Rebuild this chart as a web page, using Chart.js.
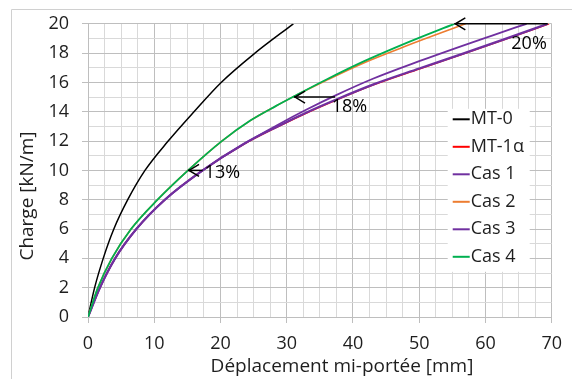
<!DOCTYPE html>
<html><head><meta charset="utf-8">
<script src="https://cdn.jsdelivr.net/npm/chart.js@4"></script>
<style>html,body{margin:0;padding:0;background:#fff}#wrap{width:572px;height:379px;position:relative}</style>
</head><body><div id="wrap"><canvas id="c"></canvas></div>
<script>
// ---- data ----
const seriesNames = ['MT-0', 'MT-1\u03B1', 'Cas 1', 'Cas 2', 'Cas 3', 'Cas 4'];
const seriesColors = ['#000000', '#FF0000', '#7030A0', '#ED7D31', '#7030A0', '#00B050'];

const mt0X = [0, 1.0, 2.3, 3.9, 6.0, 8.6, 12.1, 16.0, 20.1, 25.2, 31.0];
const mt0Y = [0, 2, 4, 6, 8, 10, 12, 14, 16, 18, 20];

const mt1X = [0, 1.8, 4.1, 7.3, 11.6, 17.3, 23.5, 28.4, 33.0, 37.3, 43.0, 50.0, 56.5, 63.0, 69.6];
const mt1Y = [0, 2, 4, 6, 8, 10, 11.78, 12.92, 13.92, 14.77, 15.82, 16.92, 17.92, 18.94, 20];

const cas1X = [0, 1.8, 4.1, 7.3, 11.6, 17.3, 23.5, 28.4, 33.0, 37.3, 43.0, 50.0, 56.5, 63.0, 69.4];
const cas1Y = [0, 2, 4, 6, 8, 10, 11.8, 12.95, 13.95, 14.8, 15.85, 16.95, 17.95, 18.97, 20];

const cas2X = [0, 1.5, 3.6, 6.5, 10.5, 15.1, 20.2, 24.5, 28.4, 31.1, 36.0, 41.7, 48.1, 57.0];
const cas2Y = [0, 2, 4, 6, 8, 10, 12, 13.4, 14.4, 15.05, 16.15, 17.35, 18.5, 20];

const cas3X = [0, 1.8, 4.1, 7.3, 11.6, 17.3, 23.5, 28.4, 33.0, 37.3, 43.0, 50.0, 56.5, 61.0, 66.2];
const cas3Y = [0, 2, 4, 6, 8, 10, 11.8, 13.05, 14.15, 15.1, 16.25, 17.45, 18.5, 19.2, 20];

const cas4X = [0, 1.5, 3.6, 6.5, 10.5, 15.1, 20.2, 24.5, 28.4, 31.1, 36.0, 41.7, 48.1, 55.3];
const cas4Y = [0, 2, 4, 6, 8, 10, 12, 13.4, 14.4, 15.05, 16.2, 17.45, 18.7, 20];

// annotations (reduction arrows)
const annLabels = ['13%', '18%', '20%'];
const annY = [10, 15, 20];
const annTipX = [15.1, 31.1, 55.3];
const annTailX = [17.3, 37.3, 69.4];
const annTextX = [17.6, 36.8, 63.9];
const annTextY = [9.85, 14.3, 18.6];

const xTitle = 'D\u00E9placement mi-port\u00E9e [mm]';
const yTitle = 'Charge [kN/m]';
const xMin = 0, xMax = 70, xStep = 2.5, xMajor = 10;
const yMin = 0, yMax = 20, yStep = 1, yMajor = 2;

// ---- chart ----
const FONT = "'Open Sans', 'DejaVu Sans', sans-serif";
const TXT = '#1e1e1e';
const MAJ = '#BEBEBE', MINC = '#D9D9D9';
const CLEAR = 'rgba(0,0,0,0)';

function isMajor(v, m) { const r = Math.abs(v / m - Math.round(v / m)); return r < 1e-6; }
function pts(xs, ys) { return xs.map((x, i) => ({ x: x, y: ys[i] })); }
const allX = [mt0X, mt1X, cas1X, cas2X, cas3X, cas4X];
const allY = [mt0Y, mt1Y, cas1Y, cas2Y, cas3Y, cas4Y];
const widths = [1.5, 1.6, 2.2, 1.6, 1.8, 1.8];

const datasets = seriesNames.map((n, i) => ({
  label: n,
  data: pts(allX[i], allY[i]),
  borderColor: seriesColors[i],
  borderWidth: widths[i],
  pointRadius: 0,
  fill: false,
  cubicInterpolationMode: 'monotone',
  order: seriesNames.length - i
}));

// per-tick grid colours (tick lists follow min/step/max of each axis)
const xGridColors = [], xTickColors = [];
for (let v = xMin; v <= xMax + 1e-9; v += xStep) {
  xGridColors.push(isMajor(v, xMajor) ? MAJ : MINC);
  xTickColors.push(isMajor(v, xMajor) ? MAJ : CLEAR);
}
const yGridColors = [], yTickColors = [];
for (let v = yMin; v <= yMax + 1e-9; v += yStep) {
  yGridColors.push(isMajor(v, yMajor) ? MAJ : MINC);
  yTickColors.push(isMajor(v, yMajor) ? MAJ : CLEAR);
}

const overlay = {
  id: 'overlay',
  afterDraw(chart) {
    const ctx = chart.ctx, xs = chart.scales.x, ys = chart.scales.y, ca = chart.chartArea;
    ctx.save();
    ctx.strokeStyle = '#D0D0D0'; ctx.lineWidth = 1;
    ctx.beginPath(); ctx.moveTo(11.5, 379); ctx.lineTo(11.5, 9.5); ctx.lineTo(572, 9.5); ctx.stroke();
    // arrows
    ctx.strokeStyle = '#000'; ctx.lineWidth = 1.5; ctx.fillStyle = '#000';
    ctx.font = '18px ' + FONT; ctx.textAlign = 'left'; ctx.textBaseline = 'middle';
    for (let i = 0; i < annLabels.length; i++) {
      const y = ys.getPixelForValue(annY[i]);
      const x0 = xs.getPixelForValue(annTipX[i]);
      const x1 = xs.getPixelForValue(annTailX[i]);
      ctx.beginPath(); ctx.moveTo(x0, y); ctx.lineTo(x1, y); ctx.stroke();
      ctx.beginPath(); ctx.moveTo(x0 + 11, y - 6); ctx.lineTo(x0 + 1, y); ctx.lineTo(x0 + 11, y + 6); ctx.stroke();
      ctx.fillText(annLabels[i], xs.getPixelForValue(annTextX[i]), ys.getPixelForValue(annTextY[i]));
    }
    // legend
    const lx = ca.right - 104, ly = ca.top + 85, lw = 82, lh = 163;
    ctx.fillStyle = '#fff'; ctx.fillRect(lx, ly, lw, lh);
    for (let i = 0; i < seriesNames.length; i++) {
      const cy = ly + 10.5 + i * 27.5;
      ctx.strokeStyle = seriesColors[i]; ctx.lineWidth = 2;
      ctx.beginPath(); ctx.moveTo(lx + 5, cy); ctx.lineTo(lx + 22, cy); ctx.stroke();
      ctx.fillStyle = TXT; ctx.fillText(seriesNames[i], lx + 23, cy);
    }
    // axis titles
    ctx.fillStyle = TXT; ctx.font = '19px ' + FONT;
    ctx.textAlign = 'center'; ctx.textBaseline = 'middle';
    ctx.fillText(xTitle, 342, 367);
    ctx.translate(28, 196); ctx.rotate(-Math.PI / 2);
    ctx.fillText(yTitle, 0, 0);
    ctx.restore();
  }
};

new Chart(document.getElementById('c'), {
  type: 'line',
  data: { datasets: datasets },
  options: {
    responsive: true, maintainAspectRatio: false, animation: false,
    layout: { padding: { left: 0, top: 22, right: 10, bottom: 0 } },
    plugins: { legend: { display: false }, tooltip: { enabled: false } },
    scales: {
      x: {
        type: 'linear', min: xMin, max: xMax,
        ticks: { stepSize: xStep, autoSkip: false, maxRotation: 0, padding: 10, color: TXT,
          font: { family: FONT, size: 18 },
          callback: v => (isMajor(v, xMajor) ? String(v) : '') },
        grid: { display: true, drawOnChartArea: true, drawTicks: true, tickLength: 6, lineWidth: 1,
          color: xGridColors, tickColor: xTickColors },
        border: { display: true, color: MAJ, width: 1 },
        afterFit: s => { s.height = 62; }
      },
      y: {
        type: 'linear', min: yMin, max: yMax,
        ticks: { stepSize: yStep, autoSkip: false, padding: 13, color: TXT,
          font: { family: FONT, size: 18 },
          callback: v => (isMajor(v, yMajor) ? String(v) : '') },
        grid: { display: true, drawOnChartArea: true, drawTicks: true, tickLength: 6, lineWidth: 1,
          color: yGridColors, tickColor: yTickColors },
        border: { display: true, color: MAJ, width: 1 },
        afterFit: s => { s.width = 88; }
      }
    }
  },
  plugins: [overlay]
});
</script></body></html>
